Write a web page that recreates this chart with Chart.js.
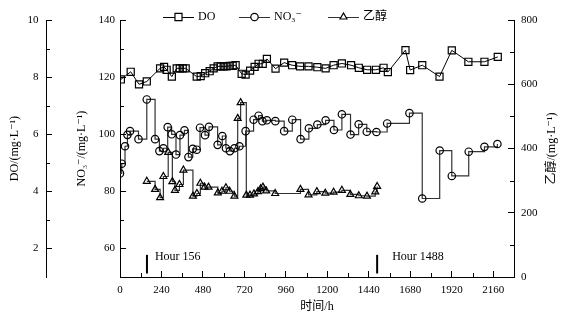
<!DOCTYPE html>
<html lang="zh">
<head>
<meta charset="UTF-8">
<title>DO、NO3-与乙醇随时间变化</title>
<script src="https://cdn.jsdelivr.net/npm/chart.js"></script>
<style>
    html, body { margin: 0; padding: 0; background: #fff; }
    .chart-box { position: relative; width: 569px; height: 321px; }
</style>
</head>
<body>
<div class="chart-box"><canvas id="mainChart"></canvas></div>
<script>
// DO, mg/L (squares, left outer axis)
const doHours = [5, 62, 110, 155, 232, 255, 270, 300, 328, 346, 363, 380, 444, 467, 493, 519, 542,
    565, 583, 600, 617, 635, 652, 669, 704, 727, 753, 779, 802, 826, 850, 900, 950, 996, 1042, 1091,
    1142, 1190, 1236, 1284, 1337, 1382, 1430, 1481, 1525, 1550, 1652, 1679, 1749, 1849, 1920, 2016, 2109, 2186];
const doValues = [7.92, 8.19, 7.75, 7.85, 8.31, 8.36, 8.26, 8.02, 8.31, 8.31, 8.31, 8.31, 8.02, 8.04, 8.14, 8.21, 8.31,
    8.38, 8.38, 8.38, 8.38, 8.4, 8.4, 8.42, 8.12, 8.09, 8.23, 8.36, 8.47, 8.47, 8.64, 8.30, 8.51, 8.42, 8.38, 8.38,
    8.35, 8.31, 8.42, 8.48, 8.42, 8.33, 8.26, 8.26, 8.33, 8.18, 8.95, 8.25, 8.42, 8.02, 8.94, 8.54, 8.54, 8.71];

// NO3-, mg/L (circles, left inner axis)
const no3Hours = [0, 10, 29, 43, 58, 107, 155, 203, 228, 251, 276, 299, 324, 347, 373, 396, 421, 444, 463, 492,
    515, 565, 592, 613, 636, 662, 691, 727, 773, 802, 824, 850, 899, 950, 997, 1045, 1093, 1142, 1190, 1238,
    1284, 1334, 1381, 1428, 1484, 1546, 1675, 1749, 1850, 1920, 2018, 2109, 2184];
const no3Values = [86.3, 89.7, 95.8, 99.8, 101.1, 98.3, 112.2, 98.3, 94.1, 95.1, 102.5, 100, 92.9, 99.7, 101.4, 92, 94.9, 94.6, 102.3, 99.7,
    102.6, 96.3, 99.4, 95.1, 94.1, 95.1, 95.8, 101.1, 105.1, 106.5, 104.6, 104.9, 104.6, 101.1, 105.1, 98.3, 102.1, 103.4, 104.9, 101.5,
    107, 99.9, 103.5, 100.9, 100.8, 103.8, 107.4, 77.5, 94.3, 85.4, 93.9, 95.6, 96.6];

// 乙醇, mg/L (triangles, right axis)
const ethHours = [155, 203, 232, 251, 279, 303, 318, 344, 367, 422, 445, 465, 489, 512, 566, 590, 613, 634, 662, 681,
    698, 731, 752, 775, 798, 814, 827, 846, 898, 1044, 1091, 1139, 1188, 1236, 1284, 1333, 1382, 1429, 1477, 1488];
const ethValues = [298, 273, 247, 313, 388, 297, 270, 288, 333, 252, 260, 292, 280, 280, 262, 267, 278, 267, 252, 494,
    543, 255, 255, 259, 266, 275, 280, 268, 260, 273, 256, 266, 261, 264, 270, 257, 253, 252, 265, 282];

// event markers
const markerHours = [156, 1488];
const markerLabels = ['Hour 156', 'Hour 1488'];
const markerRange = [11, 69];   // on the 乙醇 axis

// tick values
const xTicks = [0, 240, 480, 720, 960, 1200, 1440, 1680, 1920, 2160];
const xMinor = [120, 360, 600, 840, 1080, 1320, 1560, 1800, 2040];
const doTicks = [2, 4, 6, 8, 10];
const doMinor = [3, 5, 7, 9];
const no3Ticks = [60, 80, 100, 120, 140];
const no3Minor = [70, 90, 110, 130];
const ethTicks = [0, 200, 400, 600, 800];
const ethMinor = [100, 300, 500, 700];

const FONT = '"Liberation Serif", "DejaVu Serif", "Noto Sans CJK SC", serif';
Chart.defaults.font.family = FONT;
Chart.defaults.font.size = 11;
Chart.defaults.color = '#000';

function toPoints(xs, ys) {
    return xs.map((x, i) => ({ x: x, y: ys[i] }));
}
function fixedTicks(values) {
    return scale => { scale.ticks = values.map(v => ({ value: v })); };
}
// ticks point inward (negative length), labels sit outside
function axisBase(ticks, pad) {
    return {
        afterBuildTicks: fixedTicks(ticks),
        grid: { drawOnChartArea: false, tickLength: -6, tickColor: '#000', tickWidth: 1 },
        border: { color: '#000', width: 1 },
        ticks: { color: '#000', autoSkip: false, maxRotation: 0, padding: pad, callback: v => String(v) }
    };
}

const markerSets = markerHours.map(h => ({
    type: 'line',
    data: [{ x: h, y: markerRange[0] }, { x: h, y: markerRange[1] }],
    yAxisID: 'yEth',
    borderColor: '#000',
    borderWidth: 2,
    pointRadius: 0
}));

// minor ticks, legend, marker text and right-hand title
const extrasPlugin = {
    id: 'extras',
    afterDraw(chart) {
        const ctx = chart.ctx;
        const s = chart.scales;
        ctx.save();
        ctx.strokeStyle = '#000';
        ctx.lineWidth = 1;
        ctx.beginPath();
        doMinor.forEach(v => {
            const y = Math.round(s.yDO.getPixelForValue(v)) + 0.5;
            ctx.moveTo(s.yDO.right, y); ctx.lineTo(s.yDO.right + 4, y);
        });
        no3Minor.forEach(v => {
            const y = Math.round(s.yNO3.getPixelForValue(v)) + 0.5;
            ctx.moveTo(s.yNO3.right, y); ctx.lineTo(s.yNO3.right + 4, y);
        });
        ethMinor.forEach(v => {
            const y = Math.round(s.yEth.getPixelForValue(v)) + 0.5;
            ctx.moveTo(s.yEth.left, y); ctx.lineTo(s.yEth.left - 4, y);
        });
        xMinor.forEach(v => {
            const x = Math.round(s.x.getPixelForValue(v)) + 0.5;
            ctx.moveTo(x, s.x.top); ctx.lineTo(x, s.x.top - 4);
        });
        ctx.stroke();

        // legend
        const legendX = [163, 239, 328];
        const legendY = 17;
        ctx.font = '12px ' + FONT;
        ctx.textBaseline = 'middle';
        ctx.fillStyle = '#000';
        [0, 1, 2].forEach((di, i) => {
            const ds = chart.data.datasets[di];
            const x0 = legendX[i];
            ctx.strokeStyle = ds.borderColor;
            ctx.lineWidth = 1;
            ctx.beginPath();
            ctx.moveTo(x0, legendY + 0.5);
            ctx.lineTo(x0 + 31, legendY + 0.5);
            ctx.stroke();
            ctx.strokeStyle = ds.pointBorderColor;
            ctx.fillStyle = '#fff';
            ctx.lineWidth = ds.pointBorderWidth;
            Chart.helpers.drawPoint(ctx, {
                pointStyle: ds.pointStyle, radius: ds.pointRadius, rotation: 0, borderWidth: ds.pointBorderWidth
            }, x0 + 15.5, legendY);
            ctx.fillStyle = '#000';
            ctx.textAlign = 'left';
            ctx.fillText(ds.label, x0 + 35, legendY);
        });

        // marker captions
        const captionShift = [8, 15];
        markerHours.forEach((h, i) => {
            ctx.fillText(markerLabels[i], s.x.getPixelForValue(h) + captionShift[i], s.yEth.getPixelForValue(63));
        });

        // right title, reads bottom to top like the left ones
        ctx.translate(552, (chart.chartArea.top + chart.chartArea.bottom) / 2);
        ctx.rotate(-Math.PI / 2);
        ctx.textAlign = 'center';
        ctx.fillText('乙醇/(mg·L⁻¹)', 0, 0);
        ctx.restore();
    }
};

const ctx = document.getElementById('mainChart').getContext('2d');
new Chart(ctx, {
    type: 'line',
    data: {
        datasets: [
            {
                label: 'DO',
                data: toPoints(doHours, doValues),
                yAxisID: 'yDO',
                borderColor: '#000',
                borderWidth: 1,
                pointStyle: 'rect',
                pointRadius: 5,
                pointBorderColor: '#000',
                pointBorderWidth: 1.2,
                pointBackgroundColor: 'rgba(0,0,0,0)'
            },
            {
                label: 'NO₃⁻',
                data: toPoints(no3Hours, no3Values),
                yAxisID: 'yNO3',
                stepped: true,
                borderColor: '#333',
                borderWidth: 1.2,
                pointStyle: 'circle',
                pointRadius: 3.7,
                pointBorderColor: '#000',
                pointBorderWidth: 1.2,
                pointBackgroundColor: 'rgba(0,0,0,0)'
            },
            {
                label: '乙醇',
                data: toPoints(ethHours, ethValues),
                yAxisID: 'yEth',
                stepped: true,
                borderColor: '#333',
                borderWidth: 1.2,
                pointStyle: 'triangle',
                pointRadius: 4,
                pointBorderColor: '#000',
                pointBorderWidth: 1.2,
                pointBackgroundColor: 'rgba(0,0,0,0)'
            },
            ...markerSets
        ]
    },
    options: {
        responsive: true,
        maintainAspectRatio: false,
        animation: false,
        layout: { padding: { top: 14, left: 0, right: 0, bottom: 0 } },
        plugins: { legend: { display: false }, tooltip: { enabled: false } },
        elements: { line: { tension: 0 } },
        scales: {
            x: Object.assign(axisBase(xTicks, 13), {
                type: 'linear', position: 'bottom', min: 0, max: 2280,
                afterFit: sc => { sc.height = 44; },
                title: { display: true, text: '时间/h', font: { size: 12 }, padding: { top: 0, bottom: 7 } }
            }),
            yDO: Object.assign(axisBase(doTicks, 13.5), {
                type: 'linear', position: 'left', weight: 2, min: 1, max: 10,
                afterFit: sc => { sc.width = 46; },
                title: { display: true, text: 'DO/(mg·L⁻¹)', font: { size: 12 }, padding: { top: 8, bottom: 0 } }
            }),
            yNO3: Object.assign(axisBase(no3Ticks, 11), {
                type: 'linear', position: 'left', weight: 1, min: 50, max: 140,
                afterFit: sc => { sc.width = 74; },
                title: { display: true, text: 'NO₃⁻/(mg·L⁻¹)', font: { size: 12 }, padding: { top: 29, bottom: 0 } }
            }),
            yEth: Object.assign(axisBase(ethTicks, 13), {
                type: 'linear', position: 'right', min: 0, max: 800,
                afterFit: sc => { sc.width = 55; }
            })
        }
    },
    plugins: [extrasPlugin]
});
</script>
</body>
</html>
